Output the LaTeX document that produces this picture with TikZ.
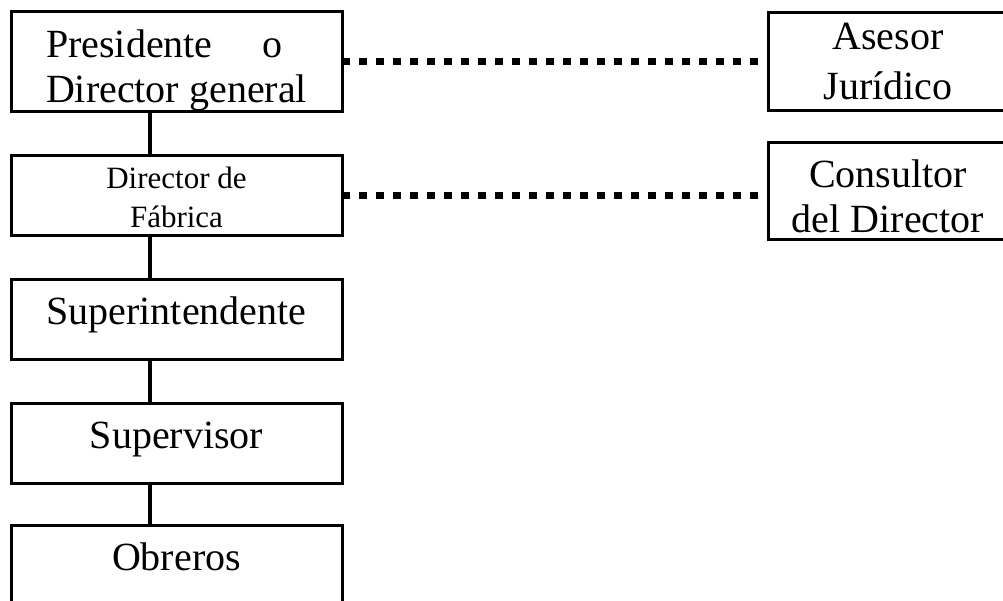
\documentclass[tikz,border=0pt]{standalone}
\usepackage{fontspec}
\setmainfont{Liberation Serif}
\usetikzlibrary{positioning}

\begin{document}
\begin{tikzpicture}[node distance={44pt}, line width=3pt, main/.style = {draw, minimum width=331pt, minimum height=80pt, inner sep=0pt, outer sep=0pt, font=\fontsize{40}{45}\selectfont}, uno/.style = {main, text height=28pt, text depth=18pt}, punteado/.style = {line width=7pt, dash pattern=on 7.5pt off 9.5pt}]
\useasboundingbox (0,0) rectangle (1003pt,-600pt);
\node[main,align=left,minimum height=98pt] (p) at (176.5pt,-61.5pt) {\rule{0pt}{46pt}Presidente\hspace{50pt}o\\Director general};
\node[main,align=center,font=\fontsize{31}{39}\selectfont] (d) [below=of p] {\rule{0pt}{26pt}Director de\\Fábrica};
\node[uno] (s) [below=of d] {Superintendente};
\node[uno] (v) [below=of s] {Supervisor};
\node[uno] (o) [below=42pt of v] {Obreros};
\node[main,align=center,minimum width=240pt,minimum height=98pt,font=\fontsize{40}{50}\selectfont] (a) [right=426pt of p] {Asesor\\Jurídico};
\node[main,align=center,minimum width=240pt,minimum height=97pt] (c) [below=32pt of a] {\rule{0pt}{38pt}Consultor\\del Director};
\draw[line width=3.5pt] ([xshift=-26.5pt]p.south) -- ([xshift=-26.5pt]d.north);
\draw[line width=3.5pt] ([xshift=-26.5pt]d.south) -- ([xshift=-26.5pt]s.north);
\draw[line width=3.5pt] ([xshift=-26.5pt]s.south) -- ([xshift=-26.5pt]v.north);
\draw[line width=3.5pt] ([xshift=-26.5pt]v.south) -- ([xshift=-26.5pt]o.north);
\draw[punteado] (p.east) -- (a.west);
\draw[punteado] (d.east) -- (d.east -| c.west);
\end{tikzpicture}
\end{document}
